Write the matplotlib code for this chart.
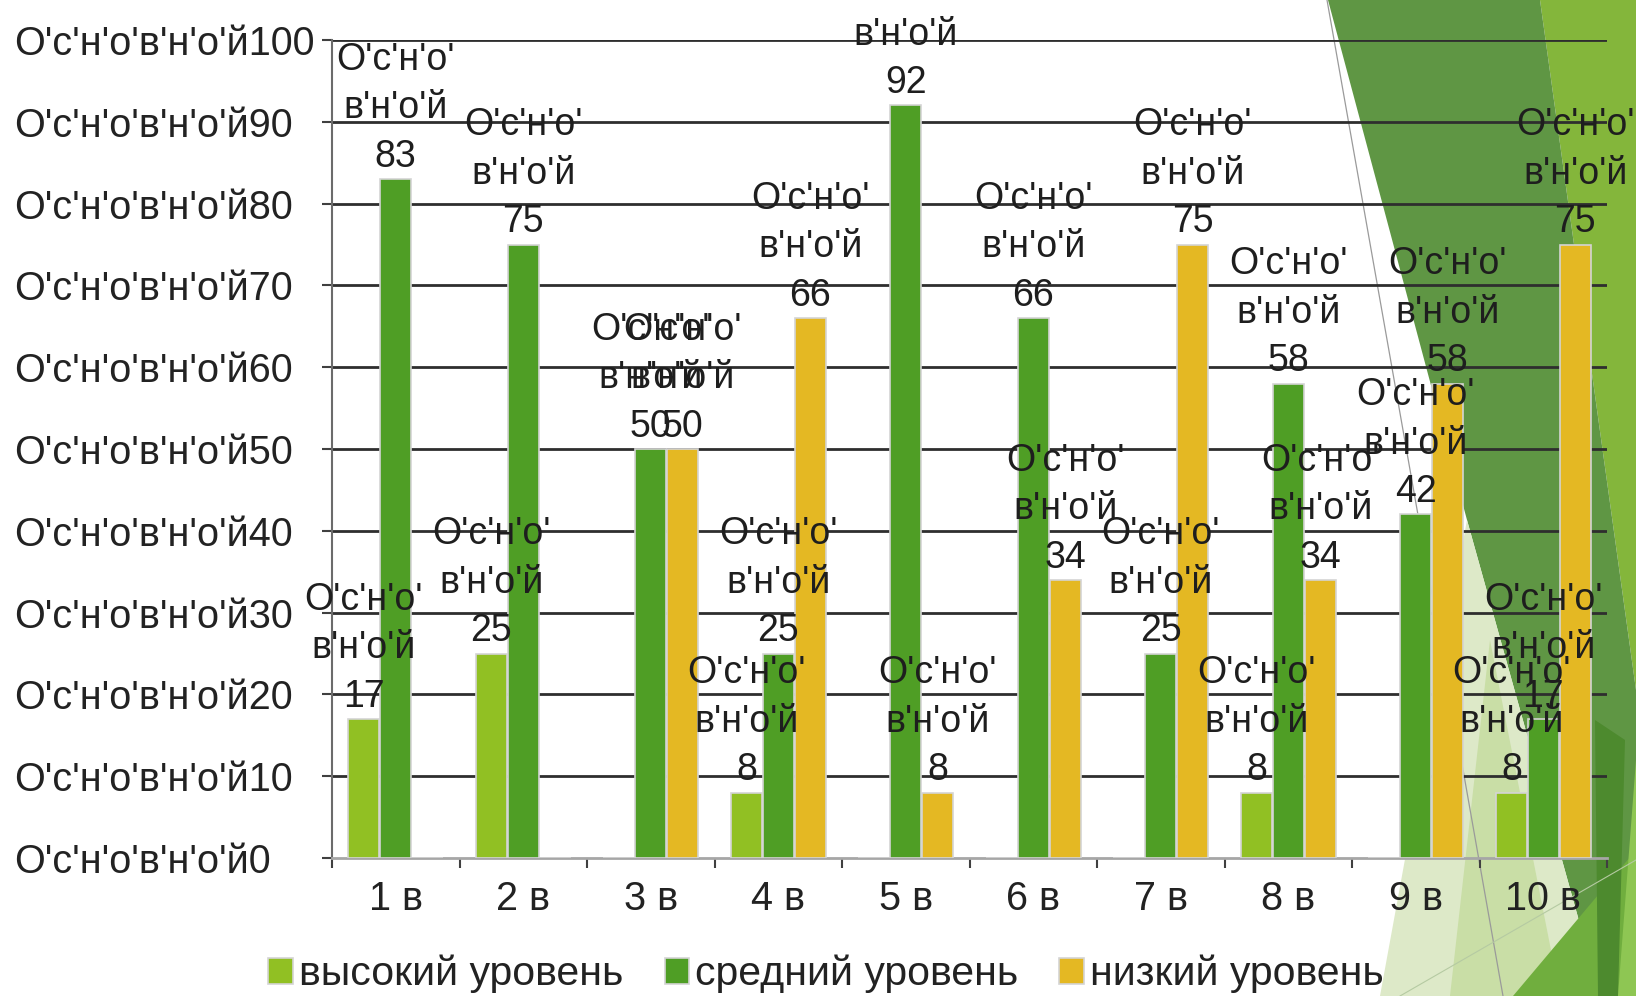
import matplotlib
matplotlib.use('Agg')
import matplotlib.pyplot as plt
from matplotlib.patches import Polygon
from matplotlib.lines import Line2D
from matplotlib import font_manager
import numpy as np

# ---------------- data ----------------
categories = ['1 в', '2 в', '3 в', '4 в', '5 в', '6 в', '7 в', '8 в', '9 в', '10 в']
series_names = ['высокий уровень', 'средний уровень', 'низкий уровень']
high = [17, 25, 0, 8, 0, 0, 0, 8, 0, 8]
mid = [83, 75, 50, 25, 92, 66, 25, 58, 42, 17]
low = [0, 0, 50, 66, 8, 34, 75, 34, 58, 75]
y_ticks = [0, 10, 20, 30, 40, 50, 60, 70, 80, 90, 100]
tick_prefix = "О'с'н'о'в'н'о'й"
label_prefix = "О'с'н'о'\nв'н'о'й"

colors = ['#91c023', '#4f9e25', '#e4b823']

names = {f.name for f in font_manager.fontManager.ttflist}
FONT = 'Liberation Sans' if 'Liberation Sans' in names else 'DejaVu Sans'
plt.rcParams['font.family'] = [FONT, 'DejaVu Sans']

W, H = 1636, 996
fig = plt.figure(figsize=(W / 100, H / 100), dpi=100)
fig.patch.set_facecolor('white')


def P(pts):
    return [(x / W, 1 - y / H) for x, y in pts]


# decorative background facets (right side)
bg = [
    ([(1540, 0), (1636, 0), (1636, 690)], '#84b63b'),
    ([(1328, 0), (1540, 0), (1636, 690), (1636, 996), (1600, 996), (1467, 520)], '#5f9644'),
    ([(1467, 520), (1600, 996), (1380, 996)], '#dde9c8'),
    ([(1490, 640), (1560, 996), (1450, 996)], '#c9dea6'),
    ([(1513, 996), (1636, 850), (1636, 996)], '#70ae3e'),
    ([(1595, 720), (1625, 740), (1618, 996), (1598, 996)], '#4d8a2e'),
    ([(1636, 760), (1636, 996), (1618, 996)], '#8ec653'),
]
for pts, col in bg:
    fig.add_artist(Polygon(P(pts), closed=True, transform=fig.transFigure,
                           facecolor=col, edgecolor='none', zorder=-5))
fig.add_artist(Line2D([1327 / W, 1503 / W], [1, 1 - 996 / H], transform=fig.transFigure,
                      color='#9a9a9a', lw=0.9, zorder=-4))
fig.add_artist(Line2D([1400 / W, 1636 / W], [1 - 996 / H, 1 - 860 / H], transform=fig.transFigure,
                      color='#b5caa2', lw=0.8, zorder=-4))

ax = fig.add_axes([332 / W, 1 - 858 / H, 1275 / W, 818 / H])
ax.set_facecolor('none')

x = np.arange(len(categories)) + 0.5
offsets = [-0.25, 0.0, 0.25]
width = 0.245
handles = []
for vals, col, off, name in zip([high, mid, low], colors, offsets, series_names):
    bars = ax.bar(x + off, vals, width, color=col, edgecolor='#d4d4d4', linewidth=1.2,
                  label=name, zorder=3)
    handles.append(bars)
    for b, v in zip(bars, vals):
        if v > 0:
            ax.annotate(f"{label_prefix}\n{v}", (b.get_x() + b.get_width() / 2, v),
                        xytext=(0, 3), textcoords='offset points', ha='center', va='bottom',
                        fontsize=27, linespacing=1.45, color='#1e1e1e',
                        annotation_clip=False, zorder=6)

ax.set_xlim(0, 10)
ax.set_ylim(0, 100)
ax.set_yticks(y_ticks)
ax.set_yticklabels([f"{tick_prefix}{t}" for t in y_ticks])
for lbl in ax.get_yticklabels():
    lbl.set_horizontalalignment('left')
ax.tick_params(axis='y', length=7, width=1.5, color='#404040', pad=222,
               labelsize=28.5, labelcolor='#222222')

ax.set_xticks(np.arange(0, 11))
ax.set_xticklabels([])
ax.set_xticks(x, minor=True)
ax.set_xticklabels(categories, minor=True)
ax.tick_params(axis='x', which='major', length=7, width=1.5, color='#404040', direction='out')
ax.tick_params(axis='x', which='minor', length=0, pad=16, labelsize=28.5, labelcolor='#222222')

ax.yaxis.grid(True, color='#2e2e2e', lw=2)
ax.set_axisbelow(True)
ax.yaxis.get_gridlines()[0].set_visible(False)

for s in ['top', 'right']:
    ax.spines[s].set_visible(False)
ax.spines['left'].set_color('#6b6b6b')
ax.spines['left'].set_linewidth(1.5)
ax.spines['bottom'].set_color('#a6a6a6')
ax.spines['bottom'].set_linewidth(2)

fig.legend(handles=handles, labels=series_names, loc='center', bbox_to_anchor=(0.505, 0.022),
           ncol=3, frameon=False, fontsize=29.5, handlelength=0.6, handleheight=0.6,
           handletextpad=0.15, columnspacing=1.0, labelcolor='#222222')

fig.savefig('out.png', dpi=100)
